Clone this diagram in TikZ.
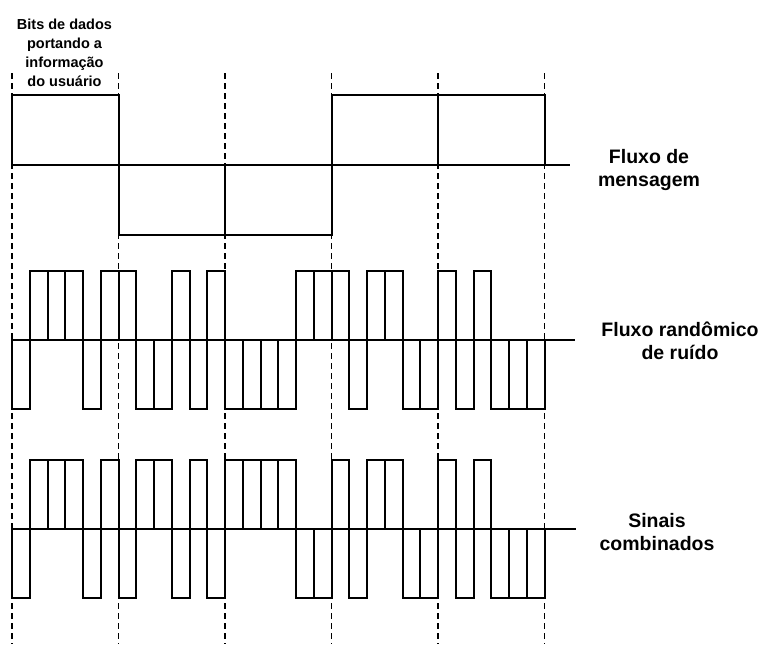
\documentclass[tikz,border=0pt]{standalone}
\usepackage{fontspec}
\setmainfont{Liberation Sans}
\begin{document}
\begin{tikzpicture}[x=1pt,y=-1pt,
  wave/.style={line width=2pt, line join=miter},
  guide/.style={line width=1.3pt, dash pattern=on 6pt off 4pt},
  lbl/.style={font=\bfseries\fontsize{19.5}{23}\selectfont, align=center, inner sep=0pt},
  toplbl/.style={font=\bfseries\fontsize{14.5}{19}\selectfont, align=center, inner sep=0pt}]
\useasboundingbox (0,0) rectangle (763,646);
% dashed bit boundaries
\foreach \i in {0,...,5}
  \draw[guide] ({12+106.5*\i},73) -- ({12+106.5*\i},644);
% message stream
\foreach \s [count=\i from 0] in {1,-1,-1,1,1}
  \draw[wave] ({12+106.5*\i},165) rectangle ({118.5+106.5*\i},{165-70*\s});
\draw[wave] (12,165) -- (570,165);
% random noise stream
\foreach \s [count=\i from 0] in {-1,1,1,1,-1,1, 1,-1,-1,1,-1,1, -1,-1,-1,-1,1,1, 1,-1,1,1,-1,-1, 1,-1,1,-1,-1,-1}
  \draw[wave] ({12+17.75*\i},339.5) rectangle ({29.75+17.75*\i},{339.5-69*\s});
\draw[wave] (12,339.5) -- (575,339.5);
% combined signals
\foreach \s [count=\i from 0] in {-1,1,1,1,-1,1, -1,1,1,-1,1,-1, 1,1,1,1,-1,-1, 1,-1,1,1,-1,-1, 1,-1,1,-1,-1,-1}
  \draw[wave] ({12+17.75*\i},529) rectangle ({29.75+17.75*\i},{529-69*\s});
\draw[wave] (12,529) -- (576,529);
% labels
\node[toplbl] (bits) at (64.5,53) {Bits de dados\\portando a\\informação\\do usuário};
\node[lbl] (msg) at (649,170) {Fluxo de\\mensagem};
\node[lbl] (noise) at (680,341) {Fluxo randômico\\de ruído};
\node[lbl] (comb) at (657,532) {Sinais\\combinados};
\end{tikzpicture}
\end{document}
